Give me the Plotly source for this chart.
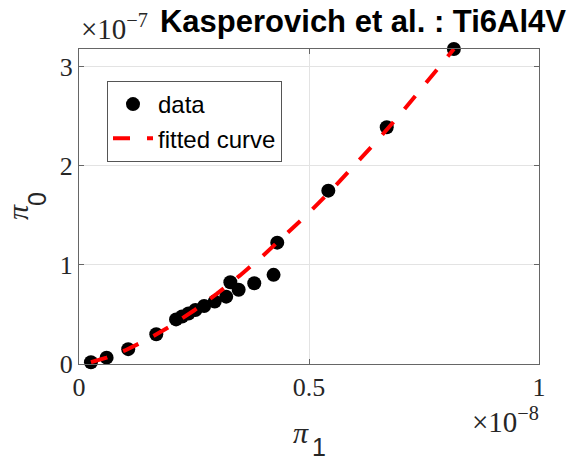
import plotly.graph_objects as go

# data (pi_1 in units of 1e-8, pi_0 in units of 1e-7)
data_x = [0.026, 0.060, 0.107, 0.168, 0.211, 0.224, 0.238, 0.253, 0.272, 0.295,
          0.320, 0.329, 0.347, 0.381, 0.423, 0.431, 0.542, 0.669, 0.815]
data_y = [0.017, 0.064, 0.150, 0.300, 0.450, 0.480, 0.510, 0.545, 0.586, 0.630,
          0.680, 0.825, 0.750, 0.815, 0.900, 1.225, 1.750, 2.390, 3.180]

# fitted curve samples
fit_x = [0.026, 0.06, 0.10, 0.15, 0.20, 0.25, 0.30, 0.35, 0.40, 0.45,
         0.50, 0.55, 0.60, 0.65, 0.70, 0.75, 0.815]
fit_y = [0.018, 0.064, 0.137, 0.251, 0.386, 0.540, 0.710, 0.894, 1.093, 1.304,
         1.527, 1.762, 2.008, 2.264, 2.530, 2.806, 3.180]

x_ticks = [0, 0.5, 1]
x_tick_labels = ["0", "0.5", "1"]
y_ticks = [0, 1, 2, 3]
y_tick_labels = ["0", "1", "2", "3"]

title_text = "Kasperovich et al. : Ti6Al4V"

# plot area in pixels (for placing the free texts)
L, R, T, B = 79, 539, 49, 364
W, H = R - L, B - T


def px(x):
    return (x - L) / W


def py(y):
    return (B - y) / H


fig = go.Figure()
fig.add_trace(go.Scatter(
    x=data_x, y=data_y, mode="markers", name="data",
    marker=dict(color="black", size=14, line=dict(width=0)),
    cliponaxis=False,
))
fig.add_trace(go.Scatter(
    x=fit_x, y=fit_y, mode="lines", name="fitted curve",
    line=dict(color="#ff0000", width=4, dash="17px,17px"),
    cliponaxis=False,
))

axis_common = dict(
    showgrid=True, gridcolor="#e3e3e3", gridwidth=1,
    showline=True, linecolor="#666666", linewidth=1, mirror="ticks",
    ticks="inside", ticklen=5, tickcolor="#666666",
    zeroline=False,
    tickfont=dict(family="Liberation Serif", size=26, color="#262626"),
)

fig.update_layout(
    width=584, height=461,
    margin=dict(l=L, r=584 - R, t=T, b=461 - B),
    paper_bgcolor="white", plot_bgcolor="white",
    showlegend=True,
    legend=dict(
        x=px(107), y=py(81), xanchor="left", yanchor="top",
        bgcolor="white", bordercolor="#555555", borderwidth=1,
        font=dict(family="Liberation Sans", size=24, color="black"),
        itemwidth=40,
        tracegroupgap=0,
    ),
    xaxis=dict(range=[0, 1], tickvals=x_ticks, ticktext=x_tick_labels, **axis_common),
    yaxis=dict(range=[0, 3.18], tickvals=y_ticks, ticktext=y_tick_labels, **axis_common),
    title=dict(
        text="<b>" + title_text + "</b>",
        x=363 / 584, xanchor="center", xref="container",
        y=1 - 21 / 461, yanchor="middle", yref="container",
        font=dict(family="Liberation Sans", size=31, color="black"),
    ),
)

fig.add_annotation(
    text="×10<sup>−7</sup>", xref="paper", yref="paper",
    x=px(79), y=py(27), xanchor="left", yanchor="middle",
    showarrow=False, font=dict(family="Liberation Serif", size=29, color="#262626"),
)
fig.add_annotation(
    text="×10<sup>−8</sup>", xref="paper", yref="paper",
    x=px(541), y=py(420), xanchor="right", yanchor="middle",
    showarrow=False, font=dict(family="Liberation Serif", size=29, color="#262626"),
)
# x axis label  pi_1
fig.add_annotation(
    text="<i>π</i>", xref="paper", yref="paper",
    x=px(301), y=py(432), xanchor="center", yanchor="middle",
    showarrow=False, font=dict(family="Liberation Serif", size=30, color="#262626"),
)
fig.add_annotation(
    text="1", xref="paper", yref="paper",
    x=px(319), y=py(447), xanchor="center", yanchor="middle",
    showarrow=False, font=dict(family="Liberation Sans", size=25, color="#262626"),
)
# y axis label  pi_0
fig.add_annotation(
    text="<i>π</i>", xref="paper", yref="paper",
    x=px(18), y=py(212), xanchor="center", yanchor="middle", textangle=-90,
    showarrow=False, font=dict(family="Liberation Serif", size=30, color="#262626"),
)
fig.add_annotation(
    text="0", xref="paper", yref="paper",
    x=px(37), y=py(199), xanchor="center", yanchor="middle", textangle=-90,
    showarrow=False, font=dict(family="Liberation Sans", size=25, color="#262626"),
)

fig.write_html("out.html")
